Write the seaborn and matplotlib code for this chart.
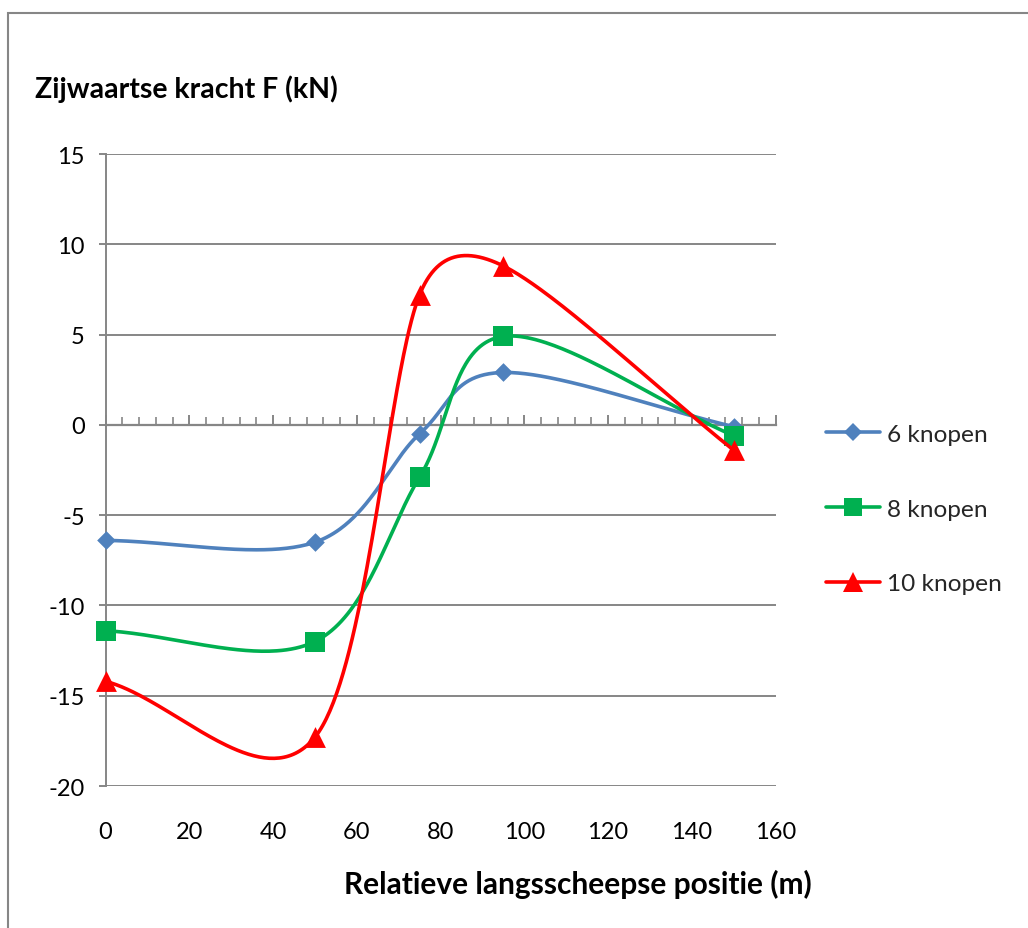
import numpy as np
import pandas as pd
import matplotlib
matplotlib.use("Agg")
import matplotlib.pyplot as plt
from matplotlib.lines import Line2D
from matplotlib.patches import Rectangle
import seaborn as sns

# Measured side force per longitudinal position, one list per ship speed
posities = [0, 50, 75, 95, 150]
kracht_6_knopen = [-6.4, -6.5, -0.5, 2.9, -0.1]
kracht_8_knopen = [-11.4, -12.0, -2.9, 4.9, -0.6]
kracht_10_knopen = [-14.2, -17.3, 7.2, 8.8, -1.4]
reeksen = ["6 knopen", "8 knopen", "10 knopen"]

x_ticks = [0, 20, 40, 60, 80, 100, 120, 140, 160]
y_ticks = [-20, -15, -10, -5, 0, 5, 10, 15]

kleuren = ["#4F81BD", "#00B050", "#FF0000"]
markers = ["D", "s", "^"]
marker_pt = [9.5, 14.0, 15.0]
GRIJS = "#868686"
TICK_FS = 17.0
LEGEND_FS = 17.6

sns.set_theme(style="white")
plt.rcParams["font.family"] = ["Lato", "DejaVu Sans"]
plt.rcParams["axes.unicode_minus"] = False

W, H = 1028, 929
fig = plt.figure(figsize=(W / 100, H / 100), dpi=100)
fig.patch.set_facecolor("white")

# plot area in pixels: x 105.5..775.5, y 155..787 (from top)
ax = fig.add_axes([105.5 / W, 1 - 787 / H, 670 / W, 632 / H])
ax.set_facecolor("white")
ax.set_xlim(0, 160)
ax.set_ylim(-20, 15)


def smooth_curve(xs, ys, n=80):
    """Bezier smoothing in screen space, tangents limited to half a segment."""
    pts = ax.transData.transform(np.column_stack([xs, ys]))
    m = len(pts)
    out = [pts[0]]
    t = np.linspace(0, 1, n)[1:, None]
    for i in range(m - 1):
        p1, p2 = pts[i], pts[i + 1]
        p0 = pts[i - 1] if i > 0 else p1
        p3 = pts[i + 2] if i + 2 < m else p2
        d12 = np.hypot(*(p2 - p1))
        d02 = np.hypot(*(p2 - p0))
        d13 = np.hypot(*(p3 - p1))
        f1 = 1 / 3 if i == 0 else min(1 / 6, d12 / (2 * d02))
        f2 = 1 / 3 if i + 2 >= m else min(1 / 6, d12 / (2 * d13))
        c1 = p1 + (p2 - p0) * f1
        c2 = p2 - (p3 - p1) * f2
        seg = ((1 - t) ** 3) * p1 + 3 * ((1 - t) ** 2) * t * c1 \
            + 3 * (1 - t) * (t ** 2) * c2 + (t ** 3) * p2
        out.extend(seg)
    return ax.transData.inverted().transform(np.array(out))


series = [kracht_6_knopen, kracht_8_knopen, kracht_10_knopen]
for k, (naam, waarden) in enumerate(zip(reeksen, series)):
    curve = smooth_curve(posities, waarden)
    df_curve = pd.DataFrame({"x": curve[:, 0], "y": curve[:, 1]})
    sns.lineplot(data=df_curve, x="x", y="y", sort=False, estimator=None,
                 color=kleuren[k], linewidth=2.6, ax=ax, zorder=3 + k)
    df_pts = pd.DataFrame({"x": posities, "y": waarden})
    sns.scatterplot(data=df_pts, x="x", y="y", marker=markers[k],
                    s=marker_pt[k] ** 2, color=kleuren[k], linewidth=0,
                    ax=ax, zorder=3.5 + k, clip_on=False)

# axes styling
ax.set_yticks(y_ticks)
ax.set_xticks(x_ticks)
ax.set_xticks(np.arange(0, 161, 4), minor=True)
ax.yaxis.grid(True, color=GRIJS, linewidth=1.4)
ax.xaxis.grid(False)
ax.set_axisbelow(True)

for s in ["top", "right"]:
    ax.spines[s].set_visible(False)
ax.spines["left"].set_color(GRIJS)
ax.spines["left"].set_linewidth(1.4)
ax.spines["bottom"].set_position(("data", 0))
ax.spines["bottom"].set_color(GRIJS)
ax.spines["bottom"].set_linewidth(1.6)

ax.tick_params(axis="x", which="major", direction="in", length=7.5, width=1.4,
               color=GRIJS, labelbottom=False, bottom=True)
ax.tick_params(axis="x", which="minor", direction="in", length=5.5, width=1.2,
               color=GRIJS, bottom=True)
ax.tick_params(axis="y", which="major", direction="out", length=5, width=1.4,
               color=GRIJS, left=True, pad=10, labelsize=TICK_FS,
               labelcolor="black")

# x tick labels sit under the plot area, the axis line itself runs at y = 0
sec = ax.secondary_xaxis("bottom")
sec.set_xticks(x_ticks)
sec.spines["bottom"].set_visible(False)
sec.tick_params(axis="x", length=0, pad=25, labelsize=TICK_FS, labelcolor="black")

ax.set_xlabel("Relatieve langsscheepse positie (m)", fontsize=21.5,
              fontweight="bold", color="black")
ax.xaxis.label.set_va("center")
ax.xaxis.set_label_coords((578 - 105.5) / 670, (787 - 884) / 632)

ax.set_ylabel("Zijwaartse kracht F (kN)", fontsize=20.5, fontweight="bold",
              color="black", rotation=0, ha="left", va="baseline")
ax.yaxis.set_label_coords((35 - 105.5) / 670, (787 - 98) / 632)

handles = [Line2D([], [], color=c, linewidth=2.6, marker=m, markersize=ms * 0.95,
                  markeredgewidth=0)
           for c, m, ms in zip(kleuren, markers, marker_pt)]
ax.legend(handles, reeksen, loc="center left",
          bbox_to_anchor=(826 / W, 1 - 510 / H), bbox_transform=fig.transFigure,
          frameon=False, borderpad=0, borderaxespad=0, handlelength=2.2,
          handletextpad=0.3, labelspacing=2.2, fontsize=LEGEND_FS)

# chart area border
fig.add_artist(Rectangle((8 / W, -0.05), 1.2, 1 - 14 / H + 0.05,
                         transform=fig.transFigure, fill=False,
                         edgecolor=GRIJS, linewidth=1.5, clip_on=False))

fig.savefig("out.png", dpi=100, facecolor="white")
